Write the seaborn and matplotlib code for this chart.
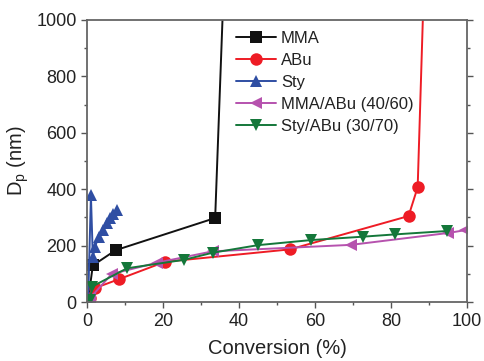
import numpy as np
import pandas as pd
import matplotlib
matplotlib.use("Agg")
import matplotlib.pyplot as plt
import seaborn as sns

# conversion (%) and particle diameter (nm)
mma_x = [0.3, 1.5, 7.5, 33.7, 37.0]
mma_y = [10, 130, 184, 298, 1500]
abu_x = [0.8, 2.1, 8.5, 20.5, 53.4, 84.6, 87.0, 89.5]
abu_y = [15, 50, 82, 143, 187, 305, 407, 1500]
sty_x = [0.3, 1.0, 1.5, 2.1, 3.0, 4.1, 5.2, 6.0, 6.9, 7.8]
sty_y = [20, 378, 160, 196, 232, 255, 280, 297, 314, 326]
mmaabu_x = [0.8, 6.5, 18.5, 33.0, 69.5, 95.0, 99.5]
mmaabu_y = [15, 100, 140, 180, 203, 245, 255]
styabu_x = [0.8, 1.3, 10.5, 25.5, 33.0, 45.0, 59.0, 72.7, 81.0, 94.7]
styabu_y = [8, 55, 120, 150, 175, 202, 220, 232, 240, 252]

names = ["MMA", "ABu", "Sty", "MMA/ABu (40/60)", "Sty/ABu (30/70)"]
xs = [mma_x, abu_x, sty_x, mmaabu_x, styabu_x]
ys = [mma_y, abu_y, sty_y, mmaabu_y, styabu_y]

frames = []
for n, x, y in zip(names, xs, ys):
    frames.append(pd.DataFrame({"conv": x, "dp": y, "series": n}))
df = pd.concat(frames, ignore_index=True)

colors = {"MMA": "#111111", "ABu": "#ee1c25", "Sty": "#2f4ea3",
          "MMA/ABu (40/60)": "#b652ae", "Sty/ABu (30/70)": "#14773a"}
markers = {"MMA": "s", "ABu": "o", "Sty": "^",
           "MMA/ABu (40/60)": "<", "Sty/ABu (30/70)": "v"}

sns.set_style("ticks")
plt.rcParams["font.family"] = ["Liberation Sans", "DejaVu Sans"]
plt.rcParams["mathtext.fontset"] = "custom"
plt.rcParams["mathtext.rm"] = "Liberation Sans"

fig = plt.figure(figsize=(4.84, 3.61), dpi=100)
ax = fig.add_axes([0.18, 0.163, 0.785, 0.782])

sns.lineplot(data=df, x="conv", y="dp", hue="series", style="series",
             hue_order=names, style_order=names, palette=colors,
             markers=markers, dashes=False, sort=False, estimator=None,
             units="series", markersize=9, markeredgewidth=0,
             linewidth=1.4, ax=ax)

ax.set_xlim(0, 100)
ax.set_ylim(0, 1000)
ax.set_xticks(np.arange(0, 101, 20))
ax.set_xticks(np.arange(10, 100, 20), minor=True)
ax.set_yticks(np.arange(0, 1001, 200))
ax.set_yticks(np.arange(100, 1000, 200), minor=True)
ax.tick_params(which="both", direction="out", colors="#555555",
               labelcolor="#222222", labelsize=13, right=True)
ax.tick_params(which="major", length=4, width=1)
ax.tick_params(which="minor", length=2.5, width=1)
for s in ax.spines.values():
    s.set_color("#666666")
    s.set_linewidth(1.3)

ax.set_xlabel("Conversion (%)", fontsize=14.5, color="#222222", labelpad=7)
ax.set_ylabel(r"D$_\mathregular{p}$ (nm)", fontsize=14.5, color="#222222", labelpad=4)

leg = ax.legend(loc="upper left", bbox_to_anchor=(0.365, 0.995), frameon=False,
                fontsize=12, handlelength=2.4, handletextpad=0.3,
                labelspacing=0.42, borderaxespad=0.2)
for t in leg.get_texts():
    t.set_color("#222222")

fig.savefig("out.png", dpi=100)
